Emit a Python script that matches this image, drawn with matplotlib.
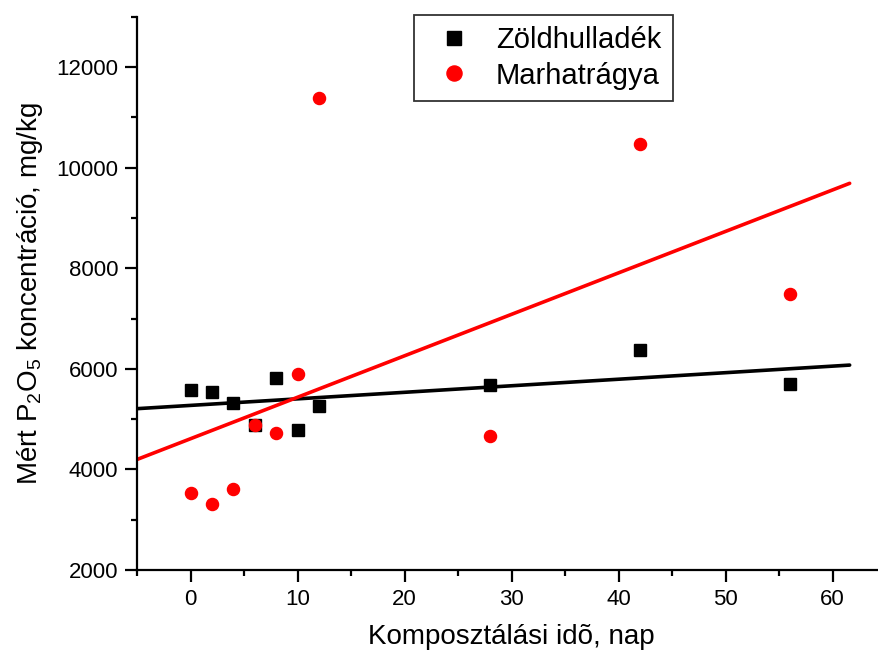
import numpy as np
import matplotlib
matplotlib.use('Agg')
import matplotlib.pyplot as plt
from matplotlib.ticker import MultipleLocator

plt.rcParams['font.family'] = ['Liberation Sans', 'DejaVu Sans']
plt.rcParams['mathtext.fontset'] = 'custom'
plt.rcParams['mathtext.rm'] = 'Liberation Sans'
plt.rcParams['mathtext.it'] = 'Liberation Sans'
plt.rcParams['mathtext.default'] = 'regular'

# napok
nap = [0, 2, 4, 6, 8, 10, 12, 28, 42, 56]
# P2O5 koncentracio, mg/kg
zold = [5573, 5545, 5314, 4890, 5823, 4777, 5254, 5672, 6380, 5692]
marha = [3531, 3312, 3616, 4883, 4724, 5897, 11378, 4664, 10469, 7487]

fig = plt.figure(figsize=(8.79, 6.57), dpi=100)
ax = fig.add_axes([0.156, 0.1324, 0.852, 0.842])

x = np.array(nap, dtype=float)
xf = np.array([-5, 61.6])
for y, c in [(zold, 'black'), (marha, 'red')]:
    m, b = np.polyfit(x, np.array(y, dtype=float), 1)
    ax.plot(xf, m * xf + b, color=c, lw=2.6, solid_capstyle='round', zorder=2)

ax.plot(nap, zold, 's', color='black', ms=8.3, label='Zöldhulladék', zorder=3)
ax.plot(nap, marha, 'o', color='red', ms=8.7, label='Marhatrágya', zorder=4)

ax.set_xlim(-5, 65)
ax.set_ylim(2000, 13000)
ax.xaxis.set_major_locator(MultipleLocator(10))
ax.xaxis.set_minor_locator(MultipleLocator(5))
ax.yaxis.set_major_locator(MultipleLocator(2000))
ax.yaxis.set_minor_locator(MultipleLocator(1000))
ax.spines['top'].set_visible(False)
ax.spines['right'].set_visible(False)
for s in ['left', 'bottom']:
    ax.spines[s].set_linewidth(1.6)
ax.tick_params(which='major', direction='out', length=8.5, width=1.6, labelsize=16, pad=5)
ax.tick_params(which='minor', direction='out', length=4.3, width=1.6)

ax.set_xlabel('Komposztálási idõ, nap', fontsize=20, labelpad=10)
ax.set_ylabel('Mért P$_2$O$_5$ koncentráció, mg/kg', fontsize=20, labelpad=8)

leg = ax.legend(loc='upper left', bbox_to_anchor=(0.37, 1.004), borderaxespad=0,
                fontsize=21, frameon=True, fancybox=False, edgecolor='black',
                handletextpad=0.5, borderpad=0.4, labelspacing=0.25,
                handlelength=1.9, markerscale=1.25)
leg.get_frame().set_linewidth(1.3)

fig.savefig('out.png', dpi=100)
